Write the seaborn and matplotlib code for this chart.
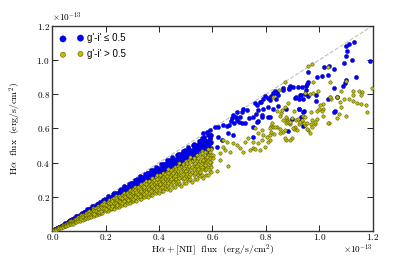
import numpy as np
import pandas as pd
import seaborn as sns
import matplotlib.pyplot as plt

plt.rcParams['font.family'] = ['cmr10']
plt.rcParams['mathtext.fontset'] = 'cm'
plt.rcParams['axes.formatter.use_mathtext'] = True

# fluxes in units of 1e-13 erg/s/cm2 : (Ha+[NII], Ha)
blue_dense = [
    (0.012, 0.011), (0.012, 0.010), (0.018, 0.016), (0.018, 0.015), (0.025, 0.024), (0.025, 0.022),
    (0.031, 0.029), (0.031, 0.026), (0.036, 0.032), (0.036, 0.029), (0.044, 0.042), (0.044, 0.037),
    (0.049, 0.045), (0.049, 0.043), (0.057, 0.054), (0.057, 0.046), (0.062, 0.056), (0.062, 0.052),
    (0.068, 0.065), (0.068, 0.061), (0.075, 0.071), (0.075, 0.065), (0.081, 0.074), (0.081, 0.066),
    (0.088, 0.085), (0.088, 0.077), (0.093, 0.087), (0.093, 0.078), (0.099, 0.088), (0.099, 0.079),
    (0.106, 0.102), (0.106, 0.090), (0.112, 0.103), (0.112, 0.097), (0.117, 0.110), (0.117, 0.095),
    (0.124, 0.112), (0.124, 0.103), (0.131, 0.126), (0.131, 0.117), (0.136, 0.129), (0.136, 0.117),
    (0.142, 0.129), (0.142, 0.116), (0.149, 0.145), (0.149, 0.131), (0.155, 0.144), (0.155, 0.130),
    (0.161, 0.143), (0.161, 0.129), (0.166, 0.159), (0.166, 0.141), (0.173, 0.159), (0.173, 0.151),
    (0.179, 0.168), (0.179, 0.145), (0.186, 0.167), (0.186, 0.154), (0.191, 0.183), (0.191, 0.170),
    (0.197, 0.187), (0.197, 0.169), (0.204, 0.186), (0.204, 0.167), (0.209, 0.203), (0.209, 0.184),
    (0.215, 0.200), (0.215, 0.181), (0.222, 0.198), (0.222, 0.178), (0.228, 0.219), (0.228, 0.194),
    (0.233, 0.214), (0.233, 0.203), (0.239, 0.225), (0.239, 0.194), (0.246, 0.221), (0.246, 0.204),
    (0.252, 0.242), (0.252, 0.224), (0.257, 0.244), (0.257, 0.221), (0.263, 0.239), (0.263, 0.216),
    (0.270, 0.262), (0.270, 0.238), (0.276, 0.257), (0.276, 0.232), (0.281, 0.250), (0.281, 0.225),
    (0.287, 0.276), (0.287, 0.244), (0.294, 0.271), (0.294, 0.256), (0.300, 0.282), (0.300, 0.243),
    (0.305, 0.275), (0.305, 0.253), (0.311, 0.299), (0.311, 0.277), (0.318, 0.302), (0.318, 0.274),
    (0.323, 0.294), (0.323, 0.265), (0.329, 0.319), (0.329, 0.290), (0.336, 0.313), (0.336, 0.282),
    (0.341, 0.304), (0.341, 0.273), (0.347, 0.333), (0.347, 0.295), (0.353, 0.325), (0.353, 0.307),
    (0.359, 0.338), (0.359, 0.291), (0.365, 0.329), (0.365, 0.303), (0.371, 0.356), (0.371, 0.330),
    (0.377, 0.358), (0.377, 0.324), (0.383, 0.349), (0.383, 0.314), (0.389, 0.377), (0.389, 0.342),
    (0.395, 0.367), (0.395, 0.332), (0.401, 0.357), (0.401, 0.321), (0.406, 0.390), (0.406, 0.345),
    (0.413, 0.380), (0.413, 0.359), (0.419, 0.394), (0.419, 0.339), (0.424, 0.382), (0.424, 0.352),
    (0.431, 0.414), (0.431, 0.384), (0.437, 0.415), (0.437, 0.376), (0.442, 0.402), (0.442, 0.362),
    (0.448, 0.435), (0.448, 0.394), (0.455, 0.423), (0.455, 0.382), (0.460, 0.409), (0.460, 0.368),
    (0.466, 0.447), (0.466, 0.396), (0.472, 0.434), (0.472, 0.411), (0.478, 0.449), (0.478, 0.387),
    (0.484, 0.436), (0.484, 0.402), (0.490, 0.470), (0.490, 0.436), (0.496, 0.471), (0.496, 0.427),
    (0.502, 0.457), (0.502, 0.412), (0.507, 0.492), (0.507, 0.446), (0.513, 0.477), (0.513, 0.431),
    (0.519, 0.462), (0.519, 0.415), (0.526, 0.505), (0.526, 0.447), (0.531, 0.489), (0.531, 0.462),
    (0.537, 0.505), (0.537, 0.435), (0.543, 0.489), (0.543, 0.451), (0.549, 0.527), (0.549, 0.489),
    (0.555, 0.527), (0.555, 0.477), (0.561, 0.511), (0.561, 0.460), (0.567, 0.550), (0.567, 0.499),
    (0.572, 0.532), (0.572, 0.481), (0.578, 0.514), (0.578, 0.462), (0.584, 0.561), (0.584, 0.496),
    (0.590, 0.543), (0.590, 0.513), (0.596, 0.560), (0.596, 0.483),
]

blue_dense_mid = [
    (0.204, 0.1765), (0.209, 0.1933), (0.215, 0.1903), (0.222, 0.1876), (0.228, 0.2063), (0.233, 0.2225),
    (0.239, 0.2091), (0.246, 0.2128), (0.252, 0.2331), (0.257, 0.2326), (0.263, 0.2275), (0.270, 0.2498),
    (0.276, 0.2443), (0.281, 0.2374), (0.287, 0.2597), (0.294, 0.2808), (0.300, 0.2625), (0.305, 0.2638),
    (0.311, 0.2877), (0.318, 0.2878), (0.323, 0.2794), (0.329, 0.3043), (0.336, 0.2974), (0.341, 0.2881),
    (0.347, 0.3140), (0.353, 0.3371), (0.359, 0.3141), (0.365, 0.3157), (0.371, 0.3432), (0.377, 0.3412),
    (0.383, 0.3313), (0.389, 0.3598), (0.395, 0.3496), (0.401, 0.3388), (0.406, 0.3674), (0.413, 0.3944),
    (0.419, 0.3666), (0.424, 0.3668), (0.431, 0.3987), (0.437, 0.3955), (0.442, 0.3823), (0.448, 0.4144),
    (0.455, 0.4027), (0.460, 0.3887), (0.466, 0.4217), (0.472, 0.4508), (0.478, 0.4183), (0.484, 0.4187),
    (0.490, 0.4533), (0.496, 0.4489), (0.502, 0.4342), (0.507, 0.4690), (0.513, 0.4540), (0.519, 0.4386),
    (0.526, 0.4760), (0.531, 0.5071), (0.537, 0.4699), (0.543, 0.4697), (0.549, 0.5078), (0.555, 0.5023),
    (0.561, 0.4853), (0.567, 0.5245), (0.572, 0.5062), (0.578, 0.4884), (0.584, 0.5285), (0.590, 0.5635),
    (0.596, 0.5215),
]

blue_sparse = [
    (1.130, 1.103), (1.111, 1.092), (1.100, 1.082), (1.104, 1.051), (1.099, 1.025), (1.093, 0.981),
    (1.124, 0.998), (1.189, 0.994), (1.136, 0.902), (1.101, 0.881), (1.096, 0.864), (1.088, 0.848),
    (1.054, 0.947), (1.019, 0.961), (1.035, 0.963), (0.957, 0.932), (1.011, 0.906), (1.031, 0.910),
    (0.992, 0.900), (0.959, 0.873), (0.954, 0.858), (0.949, 0.848), (0.936, 0.840), (0.903, 0.844),
    (0.887, 0.830), (0.951, 0.825), (0.946, 0.801), (0.987, 0.795), (1.054, 0.836), (0.928, 0.795),
    (0.921, 0.844), (0.890, 0.848), (0.863, 0.834), (0.885, 0.836), (0.864, 0.825), (0.835, 0.819),
    (0.843, 0.811), (0.825, 0.805), (0.818, 0.789), (0.797, 0.789), (0.790, 0.770), (0.814, 0.766),
    (0.837, 0.770), (0.909, 0.776), (0.925, 0.770), (0.938, 0.770), (0.957, 0.789), (0.986, 0.760),
    (0.766, 0.737), (0.778, 0.756), (0.772, 0.708), (0.809, 0.723), (0.825, 0.713), (0.847, 0.733),
    (0.790, 0.715), (0.763, 0.684), (0.753, 0.665), (0.710, 0.696), (0.703, 0.665), (0.688, 0.668),
    (0.672, 0.659), (0.668, 0.643), (0.661, 0.620), (0.681, 0.630), (0.787, 0.668), (0.772, 0.641),
    (0.808, 0.668), (0.875, 0.715), (0.923, 0.712), (0.943, 0.704), (0.928, 0.655), (1.059, 0.704),
    (0.913, 0.785), (0.931, 0.795), (1.034, 0.772), (1.066, 0.785), (1.056, 0.698), (0.940, 0.698),
    (0.924, 0.712), (0.931, 0.665), (0.938, 0.616), (0.899, 0.653), (0.882, 0.587), (0.834, 0.805),
    (0.847, 0.795), (0.809, 0.776), (0.782, 0.756), (0.759, 0.747), (0.728, 0.708), (0.713, 0.712),
    (0.690, 0.698), (0.678, 0.678), (0.690, 0.649), (0.700, 0.639), (0.709, 0.630), (0.722, 0.633),
    (0.738, 0.659), (0.766, 0.639), (0.784, 0.678), (0.815, 0.668), (0.753, 0.610), (0.653, 0.614),
    (0.640, 0.620), (0.622, 0.606), (0.609, 0.610), (0.591, 0.591), (0.578, 0.581), (0.566, 0.571),
    (0.560, 0.542), (0.591, 0.542), (0.622, 0.551), (0.634, 0.532), (0.591, 0.513), (0.572, 0.474),
    (0.616, 0.493), (0.659, 0.571), (0.678, 0.561), (0.753, 0.551),
]

yellow_dense = [
    (0.008, 0.0067), (0.008, 0.0057), (0.008, 0.0047), (0.015, 0.0117), (0.015, 0.0099), (0.015, 0.0083),
    (0.021, 0.0183), (0.021, 0.0155), (0.021, 0.0130), (0.027, 0.0216), (0.027, 0.0186), (0.027, 0.0154),
    (0.033, 0.0251), (0.033, 0.0211), (0.033, 0.0185), (0.039, 0.0332), (0.039, 0.0281), (0.039, 0.0234),
    (0.046, 0.0373), (0.046, 0.0313), (0.046, 0.0267), (0.052, 0.0437), (0.052, 0.0369), (0.052, 0.0307),
    (0.059, 0.0460), (0.059, 0.0389), (0.059, 0.0325), (0.065, 0.0566), (0.065, 0.0481), (0.065, 0.0403),
    (0.071, 0.0568), (0.071, 0.0490), (0.071, 0.0405), (0.078, 0.0593), (0.078, 0.0499), (0.078, 0.0437),
    (0.084, 0.0714), (0.084, 0.0605), (0.084, 0.0504), (0.090, 0.0729), (0.090, 0.0612), (0.090, 0.0522),
    (0.096, 0.0806), (0.096, 0.0682), (0.096, 0.0566), (0.103, 0.0803), (0.103, 0.0680), (0.103, 0.0567),
    (0.109, 0.0948), (0.109, 0.0807), (0.109, 0.0676), (0.115, 0.0920), (0.115, 0.0794), (0.115, 0.0656),
    (0.121, 0.0920), (0.121, 0.0774), (0.121, 0.0678), (0.127, 0.1080), (0.127, 0.0914), (0.127, 0.0762),
    (0.134, 0.1085), (0.134, 0.0911), (0.134, 0.0777), (0.139, 0.1168), (0.139, 0.0987), (0.139, 0.0820),
    (0.146, 0.1139), (0.146, 0.0964), (0.146, 0.0803), (0.152, 0.1322), (0.152, 0.1125), (0.152, 0.0942),
    (0.158, 0.1264), (0.158, 0.1090), (0.158, 0.0901), (0.164, 0.1246), (0.164, 0.1050), (0.164, 0.0918),
    (0.170, 0.1445), (0.170, 0.1224), (0.170, 0.1020), (0.176, 0.1426), (0.176, 0.1197), (0.176, 0.1021),
    (0.182, 0.1529), (0.182, 0.1292), (0.182, 0.1074), (0.188, 0.1466), (0.188, 0.1241), (0.188, 0.1034),
    (0.194, 0.1688), (0.194, 0.1436), (0.194, 0.1203), (0.201, 0.1608), (0.201, 0.1387), (0.201, 0.1146),
    (0.207, 0.1573), (0.207, 0.1325), (0.207, 0.1159), (0.212, 0.1802), (0.212, 0.1526), (0.212, 0.1272),
    (0.219, 0.1774), (0.219, 0.1489), (0.219, 0.1270), (0.225, 0.1890), (0.225, 0.1598), (0.225, 0.1328),
    (0.231, 0.1802), (0.231, 0.1525), (0.231, 0.1271), (0.237, 0.2062), (0.237, 0.1754), (0.237, 0.1469),
    (0.243, 0.1944), (0.243, 0.1677), (0.243, 0.1385), (0.249, 0.1892), (0.249, 0.1594), (0.249, 0.1394),
    (0.255, 0.1836), (0.255, 0.1530), (0.261, 0.2114), (0.261, 0.1775), (0.261, 0.1514),
    (0.267, 0.2243), (0.267, 0.1896), (0.267, 0.1575), (0.273, 0.2129), (0.273, 0.1802), (0.273, 0.1502),
    (0.279, 0.2065), (0.279, 0.1730), (0.285, 0.2280), (0.285, 0.1967), (0.285, 0.1625),
    (0.291, 0.2212), (0.291, 0.1862), (0.291, 0.1630), (0.297, 0.2138), (0.297, 0.1782),
    (0.303, 0.2454), (0.303, 0.2060), (0.303, 0.1757), (0.309, 0.2596), (0.309, 0.2194), (0.309, 0.1823),
    (0.315, 0.2457), (0.315, 0.2079), (0.315, 0.1733), (0.321, 0.2375), (0.321, 0.1990),
    (0.327, 0.2616), (0.327, 0.2256), (0.327, 0.1864), (0.333, 0.2531), (0.333, 0.2131), (0.333, 0.1865),
    (0.339, 0.2441), (0.339, 0.2034), (0.345, 0.2795), (0.345, 0.2346), (0.345, 0.2001),
    (0.351, 0.2948), (0.351, 0.2492), (0.351, 0.2071), (0.357, 0.2785), (0.357, 0.2356), (0.357, 0.1964),
    (0.363, 0.2686), (0.363, 0.2251), (0.369, 0.2952), (0.369, 0.2546), (0.369, 0.2103),
    (0.375, 0.2850), (0.375, 0.2400), (0.375, 0.2100), (0.381, 0.2743), (0.381, 0.2286),
    (0.387, 0.3135), (0.387, 0.2632), (0.387, 0.2245), (0.393, 0.3301), (0.393, 0.2790), (0.393, 0.2319),
    (0.399, 0.3112), (0.399, 0.2633), (0.399, 0.2195), (0.404, 0.2990), (0.404, 0.2505),
    (0.410, 0.3280), (0.410, 0.2829), (0.410, 0.2337), (0.416, 0.3162), (0.416, 0.2662), (0.416, 0.2330),
    (0.422, 0.3038), (0.422, 0.2532), (0.428, 0.3467), (0.428, 0.2910), (0.428, 0.2482),
    (0.434, 0.3646), (0.434, 0.3081), (0.434, 0.2561), (0.440, 0.3432), (0.440, 0.2904), (0.440, 0.2420),
    (0.446, 0.3300), (0.446, 0.2765), (0.452, 0.3616), (0.452, 0.3119), (0.452, 0.2576),
    (0.458, 0.3481), (0.458, 0.2931), (0.458, 0.2565), (0.464, 0.3341), (0.464, 0.2784),
    (0.470, 0.3807), (0.470, 0.3196), (0.470, 0.2726), (0.476, 0.3998), (0.476, 0.3380), (0.476, 0.2808),
    (0.482, 0.3760), (0.482, 0.3181), (0.482, 0.2651), (0.488, 0.3611), (0.488, 0.3026),
    (0.494, 0.3952), (0.494, 0.3409), (0.494, 0.2816), (0.500, 0.3800), (0.500, 0.3200), (0.500, 0.2800),
    (0.505, 0.3636), (0.505, 0.3030), (0.511, 0.4139), (0.511, 0.3475), (0.511, 0.2964),
    (0.517, 0.4343), (0.517, 0.3671), (0.517, 0.3050), (0.523, 0.4079), (0.523, 0.3452), (0.523, 0.2877),
    (0.529, 0.3915), (0.529, 0.3280), (0.535, 0.4280), (0.535, 0.3692), (0.535, 0.3050),
    (0.541, 0.4112), (0.541, 0.3462), (0.541, 0.3030), (0.547, 0.3938), (0.547, 0.3282),
    (0.553, 0.4479), (0.553, 0.3760), (0.553, 0.3207), (0.559, 0.4696), (0.559, 0.3969), (0.559, 0.3298),
    (0.565, 0.4407), (0.565, 0.3729), (0.565, 0.3108), (0.571, 0.4225), (0.571, 0.3540),
    (0.577, 0.4616), (0.577, 0.3981), (0.577, 0.3289), (0.583, 0.4431), (0.583, 0.3731), (0.583, 0.3265),
    (0.589, 0.4241), (0.589, 0.3534), (0.595, 0.4820), (0.595, 0.4046), (0.595, 0.3451),
]

yellow_dense_mid = [
    (0.152, 0.1224), (0.152, 0.1034), (0.158, 0.1177), (0.158, 0.0995), (0.164, 0.1345), (0.164, 0.1148),
    (0.170, 0.1335), (0.170, 0.1122), (0.176, 0.1311), (0.176, 0.1100), (0.182, 0.1411), (0.182, 0.1183),
    (0.188, 0.1589), (0.188, 0.1354), (0.194, 0.1562), (0.194, 0.1319), (0.201, 0.1497), (0.201, 0.1266),
    (0.207, 0.1697), (0.207, 0.1449), (0.212, 0.1664), (0.212, 0.1399), (0.219, 0.1632), (0.219, 0.1369),
    (0.225, 0.1744), (0.225, 0.1463), (0.231, 0.1952), (0.231, 0.1663), (0.237, 0.1908), (0.237, 0.1612),
    (0.243, 0.1810), (0.243, 0.1531), (0.249, 0.2042), (0.249, 0.1743), (0.255, 0.2002), (0.255, 0.1683),
    (0.261, 0.1944), (0.261, 0.1631), (0.267, 0.2069), (0.267, 0.1736), (0.273, 0.1966),
    (0.279, 0.2246), (0.279, 0.1897), (0.285, 0.2123), (0.285, 0.1796), (0.291, 0.2386), (0.291, 0.2037),
    (0.297, 0.2331), (0.297, 0.1960), (0.303, 0.2257), (0.303, 0.1894), (0.309, 0.2395), (0.309, 0.2009),
    (0.315, 0.2268), (0.321, 0.2584), (0.321, 0.2183), (0.327, 0.2436), (0.327, 0.2060),
    (0.333, 0.2731), (0.333, 0.2331), (0.339, 0.2661), (0.339, 0.2237), (0.345, 0.2570), (0.345, 0.2156),
    (0.351, 0.2720), (0.351, 0.2282), (0.357, 0.2570), (0.363, 0.2922), (0.363, 0.2468),
    (0.369, 0.2749), (0.369, 0.2325), (0.375, 0.3075), (0.375, 0.2625), (0.381, 0.2991), (0.381, 0.2515),
    (0.387, 0.2883), (0.387, 0.2419), (0.393, 0.3046), (0.393, 0.2555), (0.399, 0.2873),
    (0.404, 0.3252), (0.404, 0.2747), (0.410, 0.3055), (0.410, 0.2583), (0.416, 0.3411), (0.416, 0.2912),
    (0.422, 0.3313), (0.422, 0.2785), (0.428, 0.3189), (0.428, 0.2675), (0.434, 0.3364), (0.434, 0.2821),
    (0.440, 0.3168), (0.446, 0.3590), (0.446, 0.3033), (0.452, 0.3367), (0.452, 0.2848),
    (0.458, 0.3756), (0.458, 0.3206), (0.464, 0.3642), (0.464, 0.3062), (0.470, 0.3502), (0.470, 0.2938),
    (0.476, 0.3689), (0.476, 0.3094), (0.482, 0.3470), (0.488, 0.3928), (0.488, 0.3318),
    (0.494, 0.3680), (0.494, 0.3112), (0.500, 0.4100), (0.500, 0.3500), (0.505, 0.3964), (0.505, 0.3333),
    (0.511, 0.3807), (0.511, 0.3194), (0.517, 0.4007), (0.517, 0.3361), (0.523, 0.3766),
    (0.529, 0.4258), (0.529, 0.3597), (0.535, 0.3986), (0.535, 0.3371), (0.541, 0.4436), (0.541, 0.3787),
    (0.547, 0.4294), (0.547, 0.3610), (0.553, 0.4120), (0.553, 0.3456), (0.559, 0.4332), (0.559, 0.3634),
    (0.565, 0.4068), (0.571, 0.4597), (0.571, 0.3883), (0.577, 0.4299), (0.577, 0.3635),
    (0.583, 0.4781), (0.583, 0.4081), (0.589, 0.4624), (0.589, 0.3887), (0.595, 0.4433), (0.595, 0.3719),
]

yellow_sparse = [
    (0.974, 0.975), (0.959, 0.967), (0.872, 0.871), (0.975, 0.870), (1.041, 0.870), (1.081, 0.819),
    (1.126, 0.817), (1.149, 0.820), (1.161, 0.815), (1.196, 0.834), (0.946, 0.805), (0.965, 0.801),
    (0.848, 0.825), (1.034, 0.957), (0.976, 0.805), (0.996, 0.819), (1.040, 0.782), (1.044, 0.770),
    (1.067, 0.782), (1.099, 0.877), (1.079, 0.756), (1.093, 0.770), (1.111, 0.770), (1.127, 0.762),
    (1.140, 0.750), (1.156, 0.741), (1.175, 0.737), (1.180, 0.698), (1.067, 0.663), (1.075, 0.684),
    (0.998, 0.712), (1.013, 0.743), (1.015, 0.712), (0.938, 0.673), (0.946, 0.665), (0.934, 0.645),
    (0.912, 0.649), (0.919, 0.657), (0.897, 0.659), (0.880, 0.653), (0.875, 0.665), (0.891, 0.626),
    (0.909, 0.606), (0.925, 0.626), (0.946, 0.620), (0.971, 0.649), (0.984, 0.626), (0.853, 0.673),
    (0.856, 0.692), (0.843, 0.704), (0.818, 0.614), (0.828, 0.606), (0.840, 0.606), (0.853, 0.595),
    (0.863, 0.581), (0.818, 0.581), (0.830, 0.567), (0.759, 0.600), (0.784, 0.591), (0.790, 0.561),
    (1.039, 0.785), (1.155, 0.795), (1.125, 0.795), (1.080, 0.727), (1.100, 0.673), (1.037, 0.633),
    (1.003, 0.737), (0.993, 0.704), (1.009, 0.704), (1.013, 0.673), (0.991, 0.653), (0.969, 0.698),
    (0.969, 0.626), (0.957, 0.591), (0.965, 0.575), (0.943, 0.630), (0.953, 0.633), (0.928, 0.639),
    (0.936, 0.649), (0.906, 0.595), (0.915, 0.591), (0.897, 0.546), (0.875, 0.532), (0.886, 0.630),
    (0.878, 0.645), (0.904, 0.704), (0.828, 0.785), (0.859, 0.708), (0.872, 0.727), (0.884, 0.747),
    (0.865, 0.649), (0.875, 0.630), (0.884, 0.639), (0.822, 0.630), (0.834, 0.610), (0.815, 0.600),
    (0.772, 0.571), (0.803, 0.551), (0.815, 0.532), (0.784, 0.532), (0.772, 0.513), (0.797, 0.493),
    (0.753, 0.484), (0.740, 0.474), (0.715, 0.464), (0.703, 0.484), (0.678, 0.513), (0.690, 0.503),
    (0.722, 0.522), (0.734, 0.542), (0.753, 0.522), (0.666, 0.464), (0.638, 0.532), (0.653, 0.522),
    (0.640, 0.493), (0.647, 0.474), (0.628, 0.454), (0.603, 0.444), (0.578, 0.435), (0.566, 0.415),
    (0.591, 0.405), (0.628, 0.415), (0.560, 0.454), (0.616, 0.351), (0.657, 0.380), (0.759, 0.478),
    (0.778, 0.474), (0.809, 0.522), (0.815, 0.561), (0.853, 0.571), (0.872, 0.542), (0.890, 0.532),
    (0.872, 0.591), (0.903, 0.600), (0.953, 0.595), (0.971, 0.610), (0.984, 0.639), (0.890, 0.639),
    (1.034, 0.630), (0.603, 0.425), (0.560, 0.376),
]

tick_vals = [0.0, 0.2, 0.4, 0.6, 0.8, 1.0, 1.2]

blue = pd.DataFrame(blue_dense + blue_dense_mid + blue_sparse, columns=['nii', 'ha']) * 1e-13
yellow = pd.DataFrame(yellow_dense + yellow_dense_mid + yellow_sparse, columns=['nii', 'ha']) * 1e-13

fig = plt.figure(figsize=(4.15, 2.57), dpi=100)
ax = fig.add_axes([0.126, 0.101, 0.772, 0.799])

ax.axline((0, 0), slope=1, ls='--', color='0.75', lw=0.8, zorder=1)

sns.scatterplot(data=blue, x='nii', y='ha', color='#0000ff', s=9, edgecolor='#0000a0',
                linewidth=0.3, label="g'-i' ≤ 0.5", ax=ax, zorder=2)
sns.scatterplot(data=yellow, x='nii', y='ha', color='#bfbf00', s=6, edgecolor='#4a4a00',
                linewidth=0.35, label="g'-i' > 0.5", ax=ax, zorder=3)

ax.set_xlim(0, 1.2e-13)
ax.set_ylim(0, 1.2e-13)
ax.set_xticks([v * 1e-13 for v in tick_vals])
ax.set_yticks([v * 1e-13 for v in tick_vals[1:]])
ax.tick_params(direction='in', top=True, right=True, length=4, width=0.6, labelsize=6.6, pad=1.8)
ax.tick_params(axis='x', pad=1.0)
for sp in ax.spines.values():
    sp.set_linewidth(1.0)
    sp.set_color('#333333')
ax.yaxis.get_offset_text().set_fontsize(6.6)
ax.xaxis.get_offset_text().set_visible(False)
ax.text(1.0, -0.058, r'$\times10^{-13}$', transform=ax.transAxes, ha='right', va='top', fontsize=6.6)

ax.set_xlabel(r'$\mathrm{H}\alpha + \mathrm{[NII]}\ \ \mathrm{flux}\ \ \mathrm{(erg/s/cm^2)}$', fontsize=7)
ax.set_ylabel(r'$\mathrm{H}\alpha\ \ \mathrm{flux}\ \ \mathrm{(erg/s/cm^2)}$', fontsize=7)
ax.xaxis.set_label_coords(0.5, -0.055)
ax.yaxis.set_label_coords(-0.09, 0.5)

ax.legend(loc='upper left', frameon=False, scatterpoints=2, markerscale=1.5,
          prop={'family': 'Liberation Sans', 'size': 7}, handlelength=2.4, handletextpad=0.4,
          borderaxespad=0.4, labelspacing=0.6)

fig.savefig('out.png', dpi=100)
